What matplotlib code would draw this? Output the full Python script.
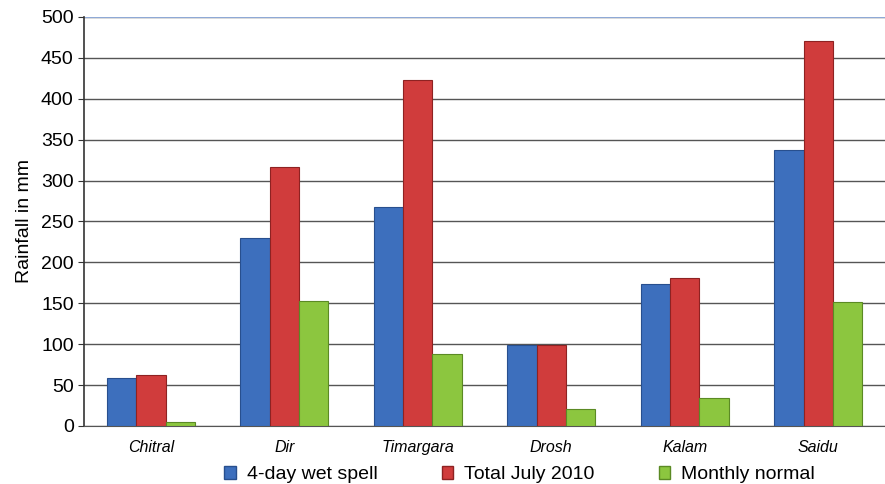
import numpy as np
import matplotlib.pyplot as plt
from matplotlib.patches import Patch

plt.rcParams['font.family'] = ['Liberation Sans', 'DejaVu Sans']

stations = ["Chitral", "Dir", "Timargara", "Drosh", "Kalam", "Saidu"]
wet_spell = [59, 230, 268, 99, 174, 337]
total_july = [62, 316, 423, 99, 181, 471]
monthly_normal = [5, 153, 88, 21, 34, 151]

series = [
    ("4-day wet spell", wet_spell, "#3d6fbd", "#284f8e"),
    ("Total July 2010", total_july, "#d03c3c", "#8e2222"),
    ("Monthly normal", monthly_normal, "#8cc63f", "#5b8a24"),
]

fig = plt.figure(figsize=(8.85, 4.84), dpi=100)
ax = fig.add_axes([0.095, 0.12, 0.905, 0.845])

x = np.arange(len(stations))
w = 0.22
for i, (name, vals, col, edge) in enumerate(series):
    ax.bar(x + (i - 1) * w, vals, w, color=col, edgecolor=edge, linewidth=0.8,
           label=name, zorder=3)

ax.set_xlim(-0.5, len(stations) - 0.5)
ax.set_ylim(0, 500)
ax.set_yticks(range(0, 501, 50))
ax.set_xticks(x)
ax.set_xticklabels(stations, fontsize=11.5, style="italic")
ax.tick_params(axis="y", labelsize=14, length=4, color="#333333")
ax.tick_params(axis="x", length=0, pad=10)
ax.yaxis.grid(True, color="#555555", linewidth=1.0, zorder=0)
ax.set_axisbelow(True)
for s in ["top", "right"]:
    ax.spines[s].set_visible(False)
ax.spines["left"].set_color("#333333")
ax.spines["left"].set_linewidth(1.2)
ax.spines["bottom"].set_color("#555555")
ax.axhline(500, color="#8fa9d6", linewidth=1.5, zorder=1)
ax.set_ylabel("Rainfall in mm", fontsize=14, labelpad=6)

handles = [Patch(facecolor=c, edgecolor=e) for _, _, c, e in series]
fig.legend(handles, [s[0] for s in series], loc="center", ncol=3,
           bbox_to_anchor=(0.587, 0.019), frameon=False, fontsize=14,
           handlelength=0.6, handleheight=0.6, columnspacing=3.3,
           handletextpad=0.55)

fig.savefig("out.png", dpi=100)
